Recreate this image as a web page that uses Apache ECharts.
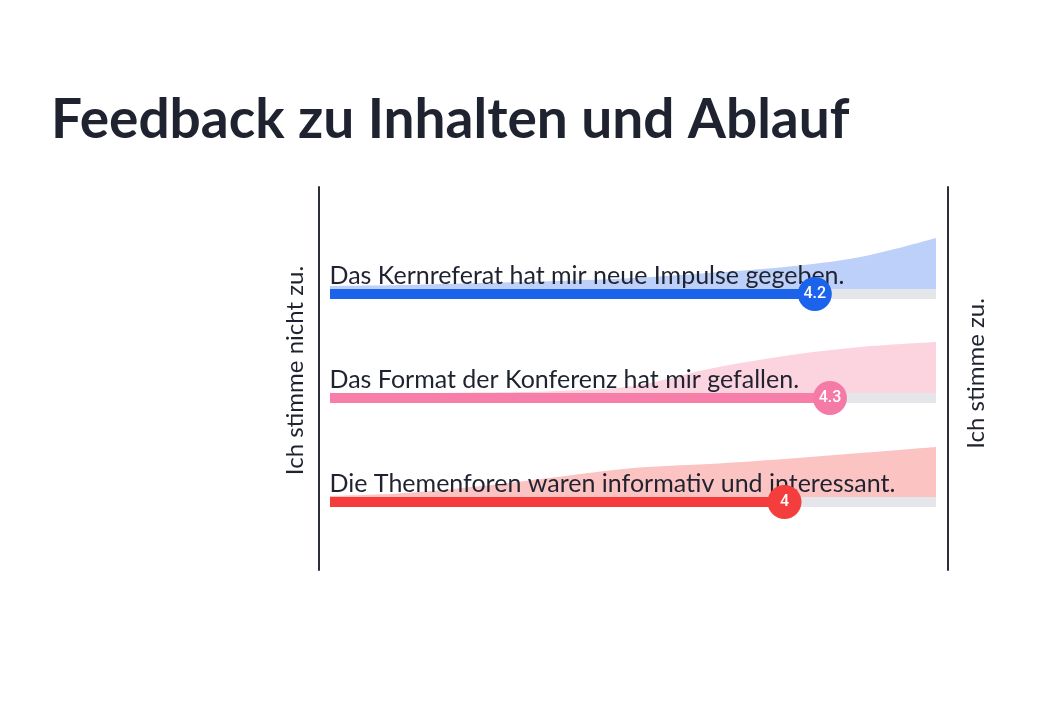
<!DOCTYPE html>
<html><head><meta charset="utf-8">
<script src="https://cdn.jsdelivr.net/npm/echarts@6/dist/echarts.min.js"></script>
<style>html,body{margin:0;padding:0;background:#fff}#c{width:1063px;height:709px}</style>
</head><body><div id="c"></div>
<script>
// ---- data ----
const chartTitle = 'Feedback zu Inhalten und Ablauf';
const statements = [
  'Das Kernreferat hat mir neue Impulse gegeben.',
  'Das Format der Konferenz hat mir gefallen.',
  'Die Themenforen waren informativ und interessant.'
];
const scores = [4.2, 4.3, 4];
const scaleMin = 1;
const scaleMax = 5;
const leftLabel = 'Ich stimme nicht zu.';
const rightLabel = 'Ich stimme zu.';
// distribution shape (relative height) sampled along the scale
const distPoints = [1, 1.5, 2, 2.5, 3, 3.5, 4, 4.5, 5];
const distKernreferat = [3, 4, 6, 8, 11, 16, 22, 32, 51];
const distFormat      = [0, 0, 0.5, 2, 7, 24, 37, 46, 51];
const distThemenforen = [1, 4, 11, 20, 29, 33, 38, 44, 50];
const distributions = [distKernreferat, distFormat, distThemenforen];

// ---- styles ----
const barColors  = ['#1c63eb', '#f77ea8', '#f53c3c'];
const dotColors  = ['#1c63eb', '#f57aa6', '#f43d3d'];
const areaColors = ['#bcd0fa', '#fcd4df', '#fcc3c3'];
const trackColor = '#e4e6e9';
const textColor  = '#1f2330';
const rowCenters = [294, 398, 502];
const rowHeight = 60;
const trackHalf = 5;

const grids = [{ left: 319, right: 1063 - 948, top: 187, bottom: 709 - 570 }];
const xAxes = [{ gridIndex: 0, type: 'value', min: 0, max: 1, show: false }];
const frameAxis = (pos, name, gap, shift) => ({
  gridIndex: 0, type: 'value', min: 0, max: 1, position: pos,
  axisLine: { show: true, onZero: false, lineStyle: { color: '#2b2f3a', width: 2 } },
  axisTick: { show: false }, axisLabel: { show: false }, splitLine: { show: false },
  name: name, nameLocation: 'middle', nameRotate: 90, nameGap: gap,
  nameTextStyle: { fontFamily: 'Lato', fontSize: 24, color: textColor, padding: [0, 0, 0, shift] }
});
const yAxes = [frameAxis('left', leftLabel, 12, 16), frameAxis('right', rightLabel, 16, 10)];
const series = [];

statements.forEach((st, i) => {
  grids.push({ left: 330, right: 1063 - 936, top: rowCenters[i] - rowHeight, height: rowHeight });
  xAxes.push({ gridIndex: i + 1, type: 'value', min: scaleMin, max: scaleMax, show: false });
  yAxes.push({ gridIndex: i + 1, type: 'value', min: 0, max: rowHeight, show: false });
  const ax = { xAxisIndex: i + 1, yAxisIndex: i + 2 };
  series.push({
    ...ax, type: 'line', smooth: 0.35, symbol: 'none', silent: true, z: 1,
    data: distPoints.map((p, k) => [p, distributions[i][k] + trackHalf]),
    lineStyle: { width: 0 },
    areaStyle: { color: areaColors[i], opacity: 1, origin: 0 }
  });
  series.push({
    ...ax, type: 'line', symbol: 'none', clip: false, z: 2, silent: true,
    data: [[scaleMin, 0], [scaleMax, 0]],
    lineStyle: { color: trackColor, width: trackHalf * 2, cap: 'butt' }
  });
  series.push({
    ...ax, type: 'line', symbol: 'none', clip: false, z: 3, silent: true,
    data: [[scaleMin, 0], [scores[i], 0]],
    lineStyle: { color: barColors[i], width: trackHalf * 2, cap: 'butt' }
  });
  series.push({
    ...ax, type: 'scatter', symbolSize: 1, clip: false, z: 4, silent: true,
    itemStyle: { color: 'rgba(0,0,0,0)', opacity: 1 },
    data: [[scaleMin, 0]],
    label: {
      show: true, position: [0, -5], align: 'left', verticalAlign: 'bottom',
      formatter: () => st, fontFamily: 'Lato', fontSize: 25, color: textColor
    }
  });
  series.push({
    ...ax, type: 'scatter', symbolSize: 34, clip: false, z: 5, silent: true,
    itemStyle: { color: dotColors[i], opacity: 1 },
    data: [[scores[i], 0]],
    label: {
      show: true, position: 'inside', formatter: () => String(scores[i]),
      fontFamily: 'Roboto', fontWeight: 500, fontSize: 16, color: '#ffffff'
    }
  });
});

const chart = echarts.init(document.getElementById('c'), null, { renderer: 'canvas' });
chart.setOption({
  animation: false,
  backgroundColor: '#ffffff',
  title: {
    text: chartTitle, left: 46, top: 88,
    textStyle: { fontFamily: 'Lato', fontWeight: 'bold', fontSize: 55, color: textColor }
  },
  grid: grids, xAxis: xAxes, yAxis: yAxes, series: series
});
</script></body></html>
